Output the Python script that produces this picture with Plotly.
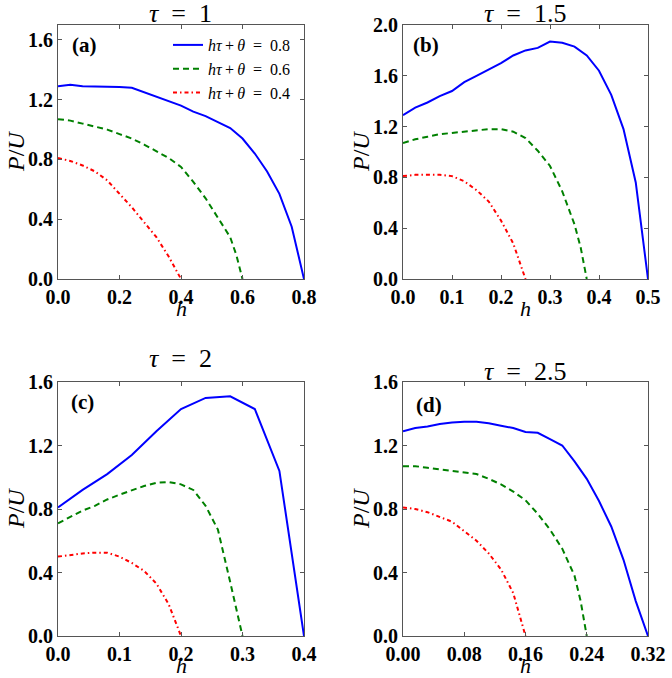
import plotly.graph_objects as go

# ---------------- data ----------------
# panel (a) tau = 1
a_h08 = [0, 0.04, 0.08, 0.12, 0.16, 0.20, 0.24, 0.28, 0.32, 0.36, 0.40, 0.44, 0.48, 0.52, 0.56, 0.60, 0.64, 0.68, 0.72, 0.76, 0.80]
a_p08 = [1.29, 1.30, 1.29, 1.29, 1.29, 1.285, 1.28, 1.25, 1.22, 1.19, 1.16, 1.12, 1.09, 1.05, 1.01, 0.94, 0.84, 0.72, 0.57, 0.35, 0.0]
a_h06 = [0, 0.04, 0.08, 0.12, 0.16, 0.20, 0.24, 0.28, 0.32, 0.36, 0.40, 0.44, 0.48, 0.52, 0.56, 0.58, 0.60]
a_p06 = [1.07, 1.06, 1.04, 1.02, 1.00, 0.97, 0.94, 0.90, 0.855, 0.81, 0.75, 0.65, 0.54, 0.41, 0.28, 0.16, 0.0]
a_h04 = [0, 0.04, 0.08, 0.12, 0.16, 0.20, 0.24, 0.28, 0.32, 0.36, 0.40]
a_p04 = [0.81, 0.79, 0.76, 0.72, 0.66, 0.57, 0.48, 0.38, 0.28, 0.15, 0.0]

# panel (b) tau = 1.5
b_h08 = [0, 0.025, 0.05, 0.075, 0.1, 0.125, 0.15, 0.175, 0.2, 0.225, 0.25, 0.275, 0.3, 0.325, 0.35, 0.375, 0.4, 0.425, 0.45, 0.475, 0.5]
b_p08 = [1.29, 1.35, 1.39, 1.44, 1.48, 1.55, 1.60, 1.65, 1.70, 1.76, 1.80, 1.82, 1.87, 1.86, 1.83, 1.76, 1.64, 1.45, 1.18, 0.76, 0.0]
b_h06 = [0, 0.025, 0.05, 0.075, 0.1, 0.125, 0.15, 0.175, 0.2, 0.225, 0.25, 0.275, 0.3, 0.325, 0.35, 0.3625, 0.375]
b_p06 = [1.07, 1.10, 1.12, 1.14, 1.15, 1.16, 1.17, 1.18, 1.18, 1.16, 1.11, 1.01, 0.89, 0.69, 0.43, 0.25, 0.0]
b_h04 = [0, 0.025, 0.05, 0.075, 0.1, 0.125, 0.15, 0.175, 0.2, 0.225, 0.25]
b_p04 = [0.81, 0.82, 0.82, 0.82, 0.81, 0.77, 0.70, 0.61, 0.46, 0.28, 0.0]

# panel (c) tau = 2
c_h08 = [0, 0.04, 0.08, 0.12, 0.16, 0.20, 0.24, 0.28, 0.32, 0.36, 0.40]
c_p08 = [0.81, 0.92, 1.02, 1.14, 1.29, 1.43, 1.50, 1.51, 1.43, 1.04, 0.0]
c_h06 = [0, 0.02, 0.04, 0.06, 0.08, 0.10, 0.12, 0.14, 0.16, 0.18, 0.20, 0.22, 0.24, 0.26, 0.28, 0.30]
c_p06 = [0.71, 0.75, 0.79, 0.82, 0.86, 0.89, 0.92, 0.945, 0.965, 0.97, 0.955, 0.92, 0.82, 0.67, 0.34, 0.0]
c_h04 = [0, 0.02, 0.04, 0.06, 0.08, 0.10, 0.12, 0.14, 0.16, 0.18, 0.20]
c_p04 = [0.50, 0.51, 0.52, 0.525, 0.525, 0.50, 0.46, 0.41, 0.33, 0.20, 0.0]

# panel (d) tau = 2.5
d_h08 = [0, 0.016, 0.032, 0.048, 0.064, 0.08, 0.096, 0.112, 0.128, 0.144, 0.16, 0.176, 0.192, 0.208, 0.224, 0.24, 0.256, 0.272, 0.288, 0.304, 0.32]
d_p08 = [1.29, 1.31, 1.32, 1.335, 1.345, 1.35, 1.35, 1.34, 1.325, 1.31, 1.285, 1.28, 1.24, 1.20, 1.10, 0.99, 0.85, 0.69, 0.48, 0.22, 0.0]
d_h06 = [0, 0.016, 0.032, 0.048, 0.064, 0.08, 0.096, 0.112, 0.128, 0.144, 0.16, 0.176, 0.192, 0.208, 0.224, 0.232, 0.24]
d_p06 = [1.07, 1.07, 1.06, 1.05, 1.04, 1.03, 1.02, 0.99, 0.955, 0.91, 0.855, 0.77, 0.67, 0.55, 0.38, 0.22, 0.0]
d_h04 = [0, 0.016, 0.032, 0.048, 0.064, 0.08, 0.096, 0.112, 0.128, 0.144, 0.16]
d_p04 = [0.81, 0.80, 0.78, 0.75, 0.72, 0.66, 0.60, 0.52, 0.42, 0.27, 0.0]

series_names = [
    "<i>hτ</i>\u2009+\u2009<i>θ</i>\u2002=\u20020.8",
    "<i>hτ</i>\u2009+\u2009<i>θ</i>\u2002=\u20020.6",
    "<i>hτ</i>\u2009+\u2009<i>θ</i>\u2002=\u20020.4",
]
panel_titles = ["<i>τ</i>\u2002=\u20021", "<i>τ</i>\u2002=\u20021.5", "<i>τ</i>\u2002=\u20022", "<i>τ</i>\u2002=\u20022.5"]
panel_labels = ["(a)", "(b)", "(c)", "(d)"]
x_ranges = [[0, 0.8], [0, 0.5], [0, 0.4], [0, 0.32]]
x_dticks = [0.2, 0.1, 0.1, 0.08]
x_formats = [".1f", ".1f", ".1f", ".2f"]
y_ranges = [[0, 1.7], [0, 2.0], [0, 1.6], [0, 1.6]]
y_dtick = 0.4

panels = [
    [(a_h08, a_p08), (a_h06, a_p06), (a_h04, a_p04)],
    [(b_h08, b_p08), (b_h06, b_p06), (b_h04, b_p04)],
    [(c_h08, c_p08), (c_h06, c_p06), (c_h04, c_p04)],
    [(d_h08, d_p08), (d_h06, d_p06), (d_h04, d_p04)],
]

# ---------------- layout geometry (pixels) ----------------
W, H = 672, 678
boxes = [(58, 304, 25, 279), (403, 648, 25, 279), (58, 304, 382, 636), (403, 648, 382, 636)]
title_y = [14, 14, 358, 371]
label_pos = [(84, 45), (426, 45), (82, 402), (429, 405)]


def px(x):
    return x / W


def py_(y):
    return 1 - y / H


styles = [
    dict(color="#0000ff", width=2, dash="solid"),
    dict(color="#008000", width=2, dash="6px,4px"),
    dict(color="#ff0000", width=2, dash="4px,3px,1.5px,3px"),
]

fig = go.Figure()
axis_line = "#555555"
tickfont = dict(family="Liberation Serif", size=20, color="black", weight="bold")

annotations = []
for i, (x0, x1, y0, y1) in enumerate(boxes):
    n = "" if i == 0 else str(i + 1)
    for j, (hx, pv) in enumerate(panels[i]):
        fig.add_trace(go.Scatter(
            x=hx, y=pv, mode="lines", line=styles[j],
            name=series_names[j], showlegend=(i == 0),
            xaxis="x" + n, yaxis="y" + n,
        ))
    common = dict(showline=True, linecolor=axis_line, linewidth=1, mirror="ticks",
                  ticks="inside", ticklen=4, tickcolor=axis_line, showgrid=False,
                  zeroline=False, tickfont=tickfont, automargin=False)
    fig.layout["xaxis" + n] = dict(domain=[px(x0), px(x1)], range=x_ranges[i],
                                    dtick=x_dticks[i], tick0=0, tickformat=x_formats[i],
                                    anchor="y" + n, ticklabelstandoff=0, **common)
    fig.layout["yaxis" + n] = dict(domain=[py_(y1), py_(y0)], range=y_ranges[i],
                                    dtick=y_dtick, tick0=0, tickformat=".1f",
                                    anchor="x" + n, ticklabelstandoff=0, **common)
    cx = (x0 + x1) / 2
    annotations.append(dict(text=panel_titles[i], x=px(cx - 1), y=py_(title_y[i]),
                            xref="paper", yref="paper", showarrow=False,
                            xanchor="center", yanchor="middle",
                            font=dict(family="Liberation Serif", size=26, color="black")))
    annotations.append(dict(text=panel_labels[i], x=px(label_pos[i][0]), y=py_(label_pos[i][1]),
                            xref="paper", yref="paper", showarrow=False,
                            xanchor="center", yanchor="middle",
                            font=dict(family="Liberation Serif", size=21, color="black", weight="bold")))
    annotations.append(dict(text="<i>P</i>/<i>U</i>", x=px(x0 - 42), y=py_((y0 + y1) / 2),
                            xref="paper", yref="paper", showarrow=False, textangle=-90,
                            xanchor="center", yanchor="middle",
                            font=dict(family="Liberation Serif", size=24, color="black")))
    annotations.append(dict(text="<i>h</i>", x=px(cx), y=py_(y1 + 29),
                            xref="paper", yref="paper", showarrow=False,
                            xanchor="center", yanchor="middle",
                            font=dict(family="Liberation Serif", size=22, color="black")))

fig.update_layout(
    width=W, height=H,
    margin=dict(l=0, r=0, t=0, b=0, autoexpand=False),
    paper_bgcolor="white", plot_bgcolor="white",
    annotations=annotations,
    legend=dict(x=px(296), y=py_(28), xanchor="right", yanchor="top",
                bgcolor="rgba(0,0,0,0)", borderwidth=0,
                font=dict(family="Liberation Serif", size=16, color="black"),
                tracegroupgap=0, itemwidth=30),
)

# remove the browser's default page margin so the 672x678 figure fills the window
fig.write_html("out.html", config={"displayModeBar": False},
               post_script="document.body.style.margin='0px';")
